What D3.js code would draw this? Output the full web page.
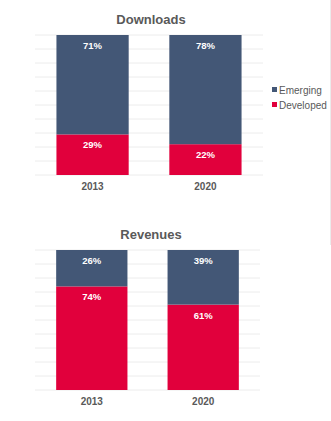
<!DOCTYPE html>
<html>
<head>
<meta charset="utf-8">
<script src="https://cdn.jsdelivr.net/npm/d3@7"></script>
<style>
  body { margin: 0; background: #fff; }
  svg { display: block; font-family: "Liberation Sans", Arial, sans-serif; }
</style>
</head>
<body>
<svg width="331" height="421"></svg>
<script>
// values in percent, developed stacked at the bottom
var years = ["2013", "2020"];
var seriesNames = ["Developed", "Emerging"];
var downloadsDeveloped = [29, 22];
var downloadsEmerging = [71, 78];
var revenuesDeveloped = [74, 61];
var revenuesEmerging = [26, 39];
var gridTicks = [0, 10, 20, 30, 40, 50, 60, 70, 80, 90, 100];

var colors = { Developed: "#E1003C", Emerging: "#435776" };

var svg = d3.select("svg");

function panel(title, developed, emerging, top, right) {
    var rows = years.map(function(y, i) {
        return { year: y, Developed: developed[i], Emerging: emerging[i] };
    });

    var xScale = d3.scaleBand().domain(years).range([35, right]).paddingInner(0.36).paddingOuter(0.19);
    var yScale = d3.scaleLinear().domain([0, 100]).range([top + 140, top]);

    var g = svg.append("g");

    g.append("text")
        .attr("x", 151).attr("y", top - 11)
        .attr("text-anchor", "middle")
        .attr("font-size", 13).attr("font-weight", "bold")
        .attr("fill", "#595959")
        .text(title);

    // light horizontal gridlines
    g.selectAll(".grid")
        .data(gridTicks)
        .enter()
        .append("line")
        .attr("x1", 35).attr("x2", right)
        .attr("y1", function(d) { return yScale(d); })
        .attr("y2", function(d) { return yScale(d); })
        .attr("stroke", "#ececec")
        .attr("stroke-width", 1);

    var stacked = d3.stack().keys(seriesNames)(rows);

    var layer = g.selectAll(".layer")
        .data(stacked)
        .enter()
        .append("g")
        .attr("fill", function(d) { return colors[d.key]; });

    layer.selectAll("rect")
        .data(function(d) { return d; })
        .enter()
        .append("rect")
        .attr("x", function(d) { return xScale(d.data.year); })
        .attr("y", function(d) { return yScale(d[1]); })
        .attr("width", xScale.bandwidth())
        .attr("height", function(d) { return yScale(d[0]) - yScale(d[1]); });

    // value labels sit just under the top of each segment
    layer.selectAll("text")
        .data(function(d) { return d; })
        .enter()
        .append("text")
        .attr("x", function(d) { return xScale(d.data.year) + xScale.bandwidth() / 2; })
        .attr("y", function(d) { return yScale(d[1]) + 14; })
        .attr("text-anchor", "middle")
        .attr("font-size", 9.5).attr("font-weight", "bold")
        .attr("fill", "#fff")
        .text(function(d) { return (d[1] - d[0]) + "%"; });

    var xAxis = g.append("g")
        .attr("transform", "translate(0," + (top + 140) + ")")
        .call(d3.axisBottom(xScale).tickSize(0).tickPadding(8));
    xAxis.select(".domain").remove();
    xAxis.selectAll("text")
        .attr("font-size", 10).attr("font-weight", "bold")
        .attr("fill", "#595959")
        .attr("font-family", "Liberation Sans, Arial, sans-serif");
}

panel("Downloads", downloadsDeveloped, downloadsEmerging, 35, 263);
panel("Revenues", revenuesDeveloped, revenuesEmerging, 250, 260);

// legend, Emerging listed first
var legend = svg.append("g").attr("transform", "translate(272,90)");
var legendItems = ["Emerging", "Developed"];
legendItems.forEach(function(name, i) {
    legend.append("rect")
        .attr("x", 0).attr("y", i * 15 - 3)
        .attr("width", 5).attr("height", 5)
        .attr("fill", colors[name]);
    legend.append("text")
        .attr("x", 7).attr("y", i * 15 + 3.5)
        .attr("font-size", 10)
        .attr("fill", "#595959")
        .text(name);
});

// faint frame edge on the right
svg.append("line")
    .attr("x1", 330.5).attr("x2", 330.5)
    .attr("y1", 0).attr("y2", 245)
    .attr("stroke", "#ebebeb");
</script>
</body>
</html>
